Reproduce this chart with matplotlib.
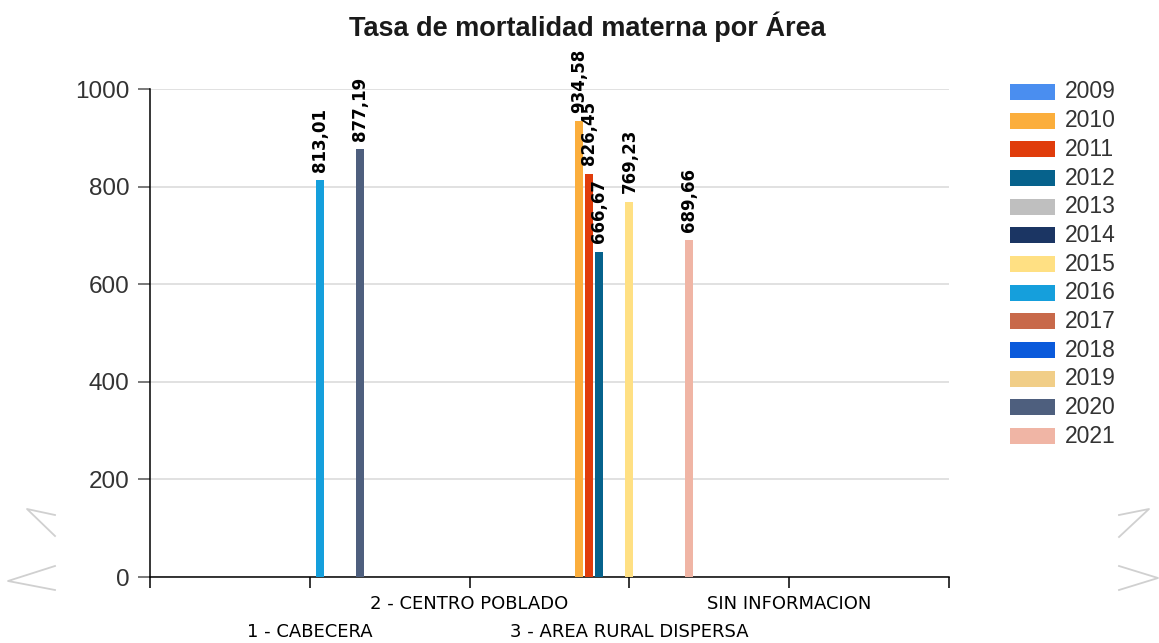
import numpy as np
import matplotlib
matplotlib.use("Agg")
import matplotlib.pyplot as plt
from matplotlib.lines import Line2D
from matplotlib.patches import Rectangle
from matplotlib.transforms import blended_transform_factory

# tasa de mortalidad materna por area de residencia, una serie por año
areas = ["1 - CABECERA", "2 - CENTRO POBLADO", "3 - AREA RURAL DISPERSA", "SIN INFORMACION"]
years = [2009, 2010, 2011, 2012, 2013, 2014, 2015, 2016, 2017, 2018, 2019, 2020, 2021]
colors = ['#4a8ef0', '#fbae3c', '#e03c0b', '#06628c', '#bfbfbf', '#1b3563', '#ffe083',
          '#159fdc', '#c8694a', '#0a5adb', '#f1ce88', '#4e5f7e', '#f0b5a5']

tasa_cabecera = [None, None, None, None, None, None, None, 813.01, None, None, None, 877.19, None]
tasa_centro = [None] * 13
tasa_rural = [None, 934.58, 826.45, 666.67, None, None, 769.23, None, None, None, None, None, 689.66]
tasa_sin_info = [None] * 13

series_by_area = [tasa_cabecera, tasa_centro, tasa_rural, tasa_sin_info]

W, H = 1159, 643
fig = plt.figure(figsize=(W / 100, H / 100), dpi=100)
ax = fig.add_axes([150 / W, 66 / H, 799 / W, 488 / H])

slot = 0.0626
bar_w = 0.05
n = len(years)

for a, vals in enumerate(series_by_area):
    for i, v in enumerate(vals):
        if v is None:
            continue
        x = a + (i - (n - 1) / 2) * slot
        ax.bar(x, v, width=bar_w, color=colors[i], zorder=3)
        ax.annotate(f"{v:.2f}".replace(".", ","), (x, v), xytext=(0, 6),
                    textcoords="offset points", rotation=90, ha="center", va="bottom",
                    fontsize=12, fontweight="bold", family="DejaVu Sans",
                    color="black", annotation_clip=False, zorder=4)

ax.set_xlim(-1, 4)
ax.set_ylim(0, 1000)
ax.set_yticks(np.arange(0, 1001, 200))
ax.set_yticklabels([str(t) for t in range(0, 1001, 200)], family="Liberation Sans",
                   fontsize=17.5, color="#333333")
ax.grid(axis="y", color="#d9d9d9", linewidth=1.1, zorder=0)
ax.set_axisbelow(True)

ax.set_xticks(np.arange(-1, 5))
ax.set_xticklabels([])
ax.tick_params(axis="x", length=8, width=1.1, color="black")
ax.tick_params(axis="y", length=9, width=1.1, color="#555555", pad=6)

for s in ["top", "right"]:
    ax.spines[s].set_visible(False)
for s in ["left", "bottom"]:
    ax.spines[s].set_color("black")
    ax.spines[s].set_linewidth(1.1)

# category labels alternate between two rows
trans = blended_transform_factory(ax.transData, ax.transAxes)
for a, name in enumerate(areas):
    dy = -55 / 488 if a % 2 == 0 else -27 / 488
    ax.text(a, dy, name, transform=trans, ha="center", va="center",
            fontsize=13, family="DejaVu Sans", color="black")

fig.text(587 / W, 1 - 27 / H, "Tasa de mortalidad materna por Área", ha="center", va="center",
         fontsize=19.5, fontweight="bold", family="Liberation Sans", color="#1a1a1a")

# legend
for i, (yr, c) in enumerate(zip(years, colors)):
    yc = 92 + i * 28.67
    fig.add_artist(Rectangle((1010 / W, 1 - (yc + 8) / H), 45 / W, 16 / H,
                             transform=fig.transFigure, facecolor=c, edgecolor="none"))
    fig.text(1065 / W, 1 - yc / H, str(yr), ha="left", va="center",
             fontsize=16.5, family="Liberation Sans", color="#333333")

# light chevron marks at the sides
chevrons = [
    [(55, 515), (27, 509), (55, 536)],
    [(55, 566), (8, 581), (55, 590)],
    [(1119, 515), (1149, 509), (1119, 537)],
    [(1119, 566), (1158, 578), (1119, 590)],
]
for pts in chevrons:
    xs = [p[0] / W for p in pts]
    ys = [1 - p[1] / H for p in pts]
    fig.add_artist(Line2D(xs, ys, transform=fig.transFigure, color="#d0d0d0", linewidth=1.3))

fig.savefig("out.png", dpi=100)
